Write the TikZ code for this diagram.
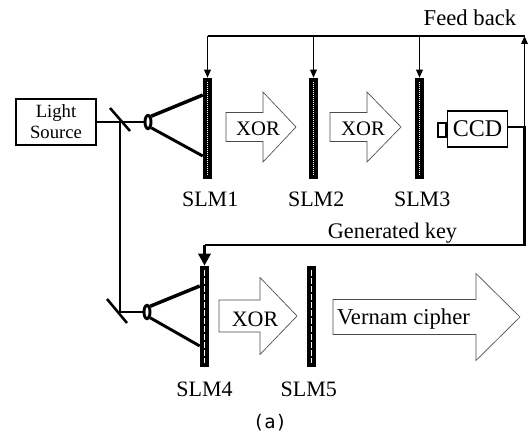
\documentclass[tikz,border=0pt]{standalone}
\usepackage{fontspec}
\setmainfont{Liberation Serif}
\newfontfamily\capfont{DejaVu Sans Mono}
\usetikzlibrary{arrows.meta,shapes.geometric}
\tikzset{
    slmbar/.style={fill=black, draw=none, inner sep=0pt, minimum width=6.75pt, minimum height=75.75pt},
    lbl/.style={inner sep=0pt, font=\fontsize{16.5}{18}\selectfont},
    lens/.style={ellipse, draw, line width=2.2pt, inner sep=0pt, minimum width=4.5pt, minimum height=10pt},
    hollow/.style={draw=black!70, line width=0.5pt, fill=white},
    thick line/.style={line width=2.2pt},
    thin line/.style={line width=1pt},
    beam/.style={line width=1.9pt},
}
\begin{document}
\begin{tikzpicture}[x=0.75pt,y=-0.75pt]
    \def\yu{122} % upper beam row
    \def\yl{312} % lower beam row
    \useasboundingbox (0,0) rectangle (529,435);

    % Source and lenses
    \node[draw, line width=1.4pt, inner sep=0pt, minimum width=60pt, minimum height=34.5pt, align=center,
          font=\fontsize{14}{15.75}\selectfont] (source) at (56,\yu) {Light\\Source};
    \node[lens] (lensa) at (148,\yu) {};
    \node[lens] (lensb) at (147,\yl) {};

    % SLM bars
    \foreach \n/\x/\y in {slma/207.5/128.5, slmb/313.5/128.5, slmc/419.5/128.5, slmd/204.5/316.5, slme/311.5/316.5} {
        \node[slmbar] (\n) at (\x,\y) {};
    }
    \foreach \n in {slma,slmb,slmc} {
        \draw[white, line width=0.5pt, densely dotted] ([yshift=-3pt]\n.north) -- ([yshift=3pt]\n.south);
    }
    \foreach \n in {slmd,slme} {
        \draw[white, line width=1.3pt, dash pattern=on 5pt off 1pt] ([yshift=-3pt]\n.north) -- ([yshift=3pt]\n.south);
    }

    % Labels under the bars
    \foreach \n/\t/\dx/\dy in {slma/SLM1/2/9, slmb/SLM2/2/9, slmc/SLM3/2/9, slmd/SLM4/0/10.5, slme/SLM5/-2/10.5} {
        \node[lbl, anchor=north] (\n text) at ([xshift=\dx pt,yshift=-\dy pt]\n.south) {\t};
    }

    % Big hollow arrows
    \foreach \xa/\xb/\xc/\yc/\bw/\hw in {226/263/296/127/14.5/35, 330/367/401/127/14.5/35,
                                          219/260/297/316/16/38.5, 333/476/520/317/17.5/43.5} {
        \draw[hollow] (\xa,\yc-\bw) -- (\xb,\yc-\bw) -- (\xb,\yc-\hw) -- (\xc,\yc)
            -- (\xb,\yc+\hw) -- (\xb,\yc+\bw) -- (\xa,\yc+\bw) -- cycle;
    }
    \node[lbl, font=\fontsize{15.5}{18}\selectfont] (xora) at (258,129) {XOR};
    \node[lbl, font=\fontsize{15.5}{18}\selectfont] (xorb) at (363,129) {XOR};
    \node[lbl] (xorc) at (255,319) {XOR};
    \node[lbl, font=\fontsize{17}{18}\selectfont] (vernam) at (403.5,319) {Vernam cipher};

    % CCD
    \node[draw, line width=1.4pt, inner sep=0pt, minimum width=45pt, minimum height=27pt,
          font=\fontsize{18}{18}\selectfont] (ccd) at (477.5,129) {CCD};
    \node[draw, line width=1.4pt, inner sep=0pt, minimum width=6pt, minimum height=10pt, anchor=east] (ccdin) at (ccd.west |- 0,130) {};

    % Mirrors
    \coordinate (mirrora) at (120,\yu);
    \coordinate (mirrorb) at (120,\yl);
    \draw[beam] (110,108) -- (130,131);
    \draw[beam] (107,299) -- (127,323);
    \draw[beam] (source.east) -- (lensa.west);
    \draw[beam] (mirrora) -- (mirrorb) -- (lensb.west);

    % Light cones
    \draw[line width=2.6pt] (lensa.north east) -- (slma.west |- 0,95);
    \draw[line width=2.2pt] (lensa.south east) -- (slma.west |- 0,156);
    \draw[line width=2.6pt] (lensb.north east) -- (slmd.west |- 0,286);
    \draw[line width=2.2pt] (lensb.south east) -- (slmd.west |- 0,346);

    % Feed back
    \coordinate (fbl) at (slma.north |- 0,36);
    \coordinate (fbr) at (524.5,36);
    \coordinate (ccdr) at (524.5,127);
    \coordinate (keyr) at (524.5,245);
    \coordinate (keyl) at (slmd.north |- 0,245);
    \draw[thick line] (fbl) -- (fbr);
    \foreach \n in {slma,slmb,slmc} {
        \draw[thin line, -{Triangle[length=6pt,width=5pt]}] (\n.north |- fbl) -- (\n.north);
    }
    \draw[thin line, -{Triangle[length=6pt,width=5pt]}] (ccdr) -- (fbr);
    \draw[thick line] (ccd.east |- ccdr) -- (ccdr) -- (keyr) -- (keyl);
    \draw[thick line, -{Triangle[length=9pt,width=9pt]}] (keyl) -- (slmd.north);

    % Texts
    \node[lbl, font=\fontsize{17}{18}\selectfont] (fbtext) at (470,18) {Feed back};
    \node[lbl, font=\fontsize{16.7}{18}\selectfont] (keytext) at (392.5,233) {Generated key};
    \node[inner sep=0pt, font=\capfont\fontsize{14}{16}\selectfont] (cap) at (270,423) {(a)};
\end{tikzpicture}
\end{document}
